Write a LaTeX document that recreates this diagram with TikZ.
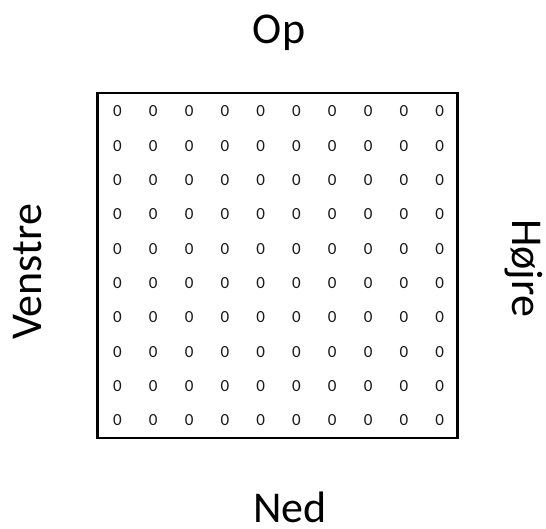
\documentclass[tikz,border=0pt]{standalone}
\usepackage{fontspec}
\setmainfont{Carlito}
\begin{document}
\begin{tikzpicture}[x=1pt,y=-1pt,
  side/.style={font=\fontsize{44}{48}\selectfont, inner sep=0pt},
  cell/.style={font=\fontsize{17}{18}\selectfont, text=black!90, inner sep=0pt}]
  \useasboundingbox (0,0) rectangle (546,528);
  % frame
  \node[draw, line width=2.4pt, minimum width=360pt, minimum height=345pt, inner sep=0pt] (box) at (277.5,265.5) {};
  % grid of zeros
  \foreach \i in {0,...,9}{
    \foreach \j in {0,...,9}{
      \node[cell] (c\i\j) at ({117.5+35.8*\i},{111.5+34.3*\j}) {0};
    }
  }
  % direction labels
  \node[side] (op) at (279,33) {Op};
  \node[side] (ned) at (290,507) {Ned};
  \node[side, rotate=90] (venstre) at (28,272) {Venstre};
  \node[side, rotate=-90] (hoejre) at (524,268) {Højre};
\end{tikzpicture}
\end{document}
